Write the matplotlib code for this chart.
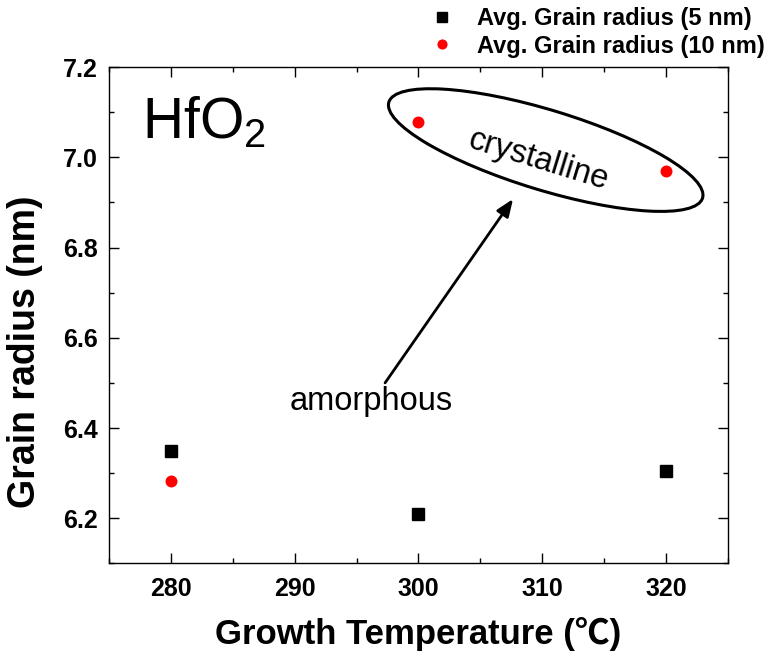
import matplotlib
matplotlib.use('Agg')
import matplotlib.pyplot as plt
from matplotlib.patches import Ellipse
from matplotlib.transforms import ScaledTranslation
from matplotlib.ticker import MultipleLocator

plt.rcParams['font.family'] = ['Liberation Sans', 'Noto Sans CJK SC', 'DejaVu Sans']
plt.rcParams['mathtext.fontset'] = 'custom'
plt.rcParams['mathtext.rm'] = 'Liberation Sans'

# growth temperature (C) and mean grain radius (nm) for both film thicknesses
temps = [280, 300, 320]
radius_5nm = [6.349, 6.209, 6.305]
radius_10nm = [6.283, 7.079, 6.970]
labels = ['Avg. Grain radius (5 nm)', 'Avg. Grain radius (10 nm)']

fig = plt.figure(figsize=(7.67, 6.60), dpi=100)
ax = fig.add_axes([0.1422, 0.1464, 0.8068, 0.7520])

ax.plot(temps, radius_5nm, 's', color='black', ms=8, label=labels[0])
ax.plot(temps, radius_10nm, 'o', color='red', ms=8.6, mec='none', label=labels[1])

ax.set_xlim(275, 325)
ax.set_ylim(6.1, 7.2)
ax.xaxis.set_major_locator(MultipleLocator(10))
ax.xaxis.set_minor_locator(MultipleLocator(5))
ax.yaxis.set_major_locator(MultipleLocator(0.2))
ax.yaxis.set_minor_locator(MultipleLocator(0.1))
ax.tick_params(which='both', direction='in', top=True, right=True, width=1.0)
ax.tick_params(which='major', length=7)
ax.tick_params(which='minor', length=3.6)
ax.tick_params(axis='x', pad=10)
ax.tick_params(axis='y', pad=8)
for lab in ax.get_xticklabels() + ax.get_yticklabels():
    lab.set_fontsize(18)
    lab.set_fontweight('bold')
for sp in ax.spines.values():
    sp.set_linewidth(1.0)

ax.set_xlabel('Growth Temperature (\u2103)', fontsize=25, fontweight='bold')
ax.xaxis.set_label_coords(0.5, -0.108)
ax.set_ylabel('Grain radius (nm)', fontsize=27, fontweight='bold')
ax.yaxis.set_label_coords(-0.107, 0.427)

ax.text(0.053, 0.858, r'$\mathrm{HfO_2}$', transform=ax.transAxes,
        fontsize=41, ha='left', va='baseline')

# crystalline group outline, sized in inches so the shape ignores axis scaling
ell_tr = fig.dpi_scale_trans + ScaledTranslation(310.28, 7.016, ax.transData)
ax.add_patch(Ellipse((0, 0), 3.28, 0.80, angle=-17, transform=ell_tr,
                     fill=False, ec='black', lw=2.2))
ax.text(309.66, 6.994, 'crystalline', fontsize=23.5, rotation=-17,
        rotation_mode='anchor', ha='center', va='center')

ax.annotate('', xy=(307.64, 6.9075), xytext=(297.3, 6.50),
            arrowprops=dict(arrowstyle='-|>,head_length=0.5,head_width=0.2',
                            lw=2.0, color='black', shrinkA=0, shrinkB=0,
                            mutation_scale=21))
ax.text(296.2, 6.44, 'amorphous', fontsize=23.5, ha='center', va='baseline')

fig.legend(loc='upper right', bbox_to_anchor=(0.9974, 0.989), frameon=False,
           prop={'size': 17, 'weight': 'bold'}, handlelength=1.0,
           handletextpad=1.0, labelspacing=0.185, borderpad=0,
           borderaxespad=0, markerscale=0.85)

fig.savefig('out.png', dpi=100)
